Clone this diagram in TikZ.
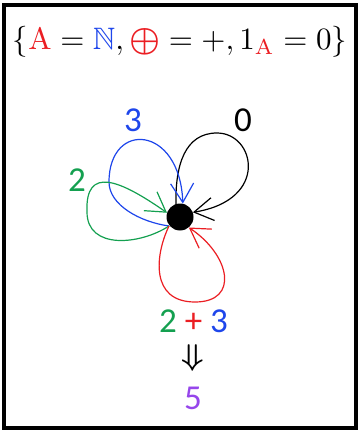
\documentclass[tikz,border=0pt]{standalone}
\usepackage{amsmath,amssymb}
\usepackage{fontspec}
\newfontfamily\labfont{Carlito}
\usetikzlibrary{arrows.meta}
\definecolor{cred}{RGB}{235,30,35}
\definecolor{cblue}{RGB}{30,70,235}
\definecolor{cgreen}{RGB}{20,160,80}
\definecolor{cpurple}{RGB}{150,70,235}
\tikzset{
  loopline/.style={line width=1.2pt, -{Straight Barb[length=19pt,width=23pt,line width=1.2pt]}},
  lab/.style={inner sep=0pt, font=\labfont\fontsize{35}{40}\selectfont},
}
\begin{document}
\begin{tikzpicture}[x=1pt,y=-1pt]
\useasboundingbox (0,0) rectangle (359,430);
\draw[line width=4pt] (3.5,5) rectangle (355.5,427.5);
\node[inner sep=0pt] (title) at (180,42)
  {\scalebox{3.1}{$\{{\color{cred}\mathrm{A}}=\mathbb{{\color{cblue}N}},\mathord{\raisebox{-0.35pt}{\scalebox{1.12}{$\color{cred}\boldsymbol{\oplus}$}}}=+,1_{\color{cred}\mathrm{A}}=0\}$}};
\node[circle, fill=black, minimum size=27pt, inner sep=0pt] (v) at (180,217) {};
\coordinate (s0) at (176,205);
\coordinate (s1) at (169,226);
\coordinate (kT) at (217,133);
\coordinate (kL) at (109,182);
\coordinate (kG) at (87,212);
\coordinate (kR) at (195,302);
\draw[loopline, black] (s0) .. controls (175,165) and (185,133) .. (kT)
  .. controls (255,133) and (270,200) .. (v.20);
\draw[loopline, cblue] (s1) .. controls (140,222) and (109,205) .. (kL)
  .. controls (109,120) and (180,125) .. (v.78);
\draw[loopline, cgreen] (s1) .. controls (140,245) and (87,250) .. (kG)
  .. controls (85,165) and (120,180) .. (v.162);
\draw[loopline, cred] (s1) .. controls (155,255) and (150,302) .. (kR)
  .. controls (240,302) and (230,255) .. (v.-50);
\node[lab, text=cblue] (l3) at (133,120) {3};
\node[lab, text=black] (l0) at (243,120) {0};
\node[lab, text=cgreen] (l2) at (77,180) {2};
\node[lab] (sum) at (193.5,321.5) {{\color{cgreen}2} {\color{cred}+} {\color{cblue}3}};
\node[inner sep=0pt] (impl) at (193,358) {\scalebox{3.2}[3.0]{$\boldsymbol{\Downarrow}$}};
\node[lab, text=cpurple] (five) at (193,398) {5};
\end{tikzpicture}
\end{document}
